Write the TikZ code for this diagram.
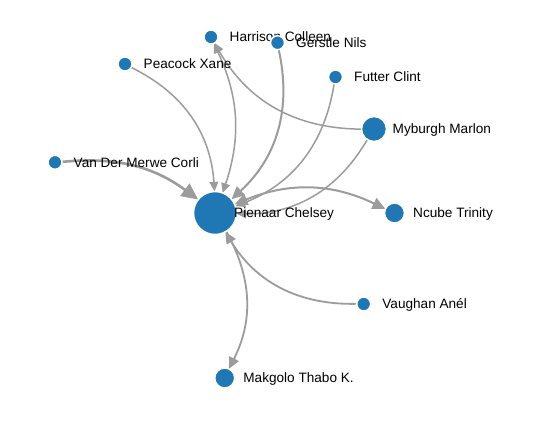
\documentclass[tikz,border=0pt]{standalone}
\usepackage{fontspec}
\setmainfont{Liberation Sans}
\usetikzlibrary{arrows.meta}
\pgfdeclarelayer{background}
\pgfsetlayers{background,main}
\definecolor{nodeblue}{HTML}{1F77B4}
\definecolor{edgegray}{HTML}{9C9C9C}
\begin{document}
\begin{tikzpicture}[x=1pt,y=-1pt,
  pnode/.style={circle,fill=nodeblue,draw=white,line width=1.5pt,inner sep=0pt,outer sep=0pt,minimum size=#1},
  lbl/.style={anchor=base west,inner sep=0pt,font=\fontsize{13.6}{16}\selectfont},
  tip/.style={-{Triangle[length=0pt 6.4,width=0pt 5.8]}},
  bothtip/.style={{Triangle[length=0pt 6.4,width=0pt 5.8]}-{Triangle[length=0pt 6.4,width=0pt 5.8]}},
  link/.style={draw=edgegray,line width=#1},
  link/.default=1.5pt]
\useasboundingbox (0,0) rectangle (556,429);
% nodes with labels
\node[pnode=43pt] (pie) at (215,213) {};
\node[lbl] (piel) at (234,217.8) {Pienaar Chelsey};
\node[pnode=14pt] (har) at (211,37) {};
\node[lbl] (harl) at (229.5,41.8) {Harrison Colleen};
\node[pnode=14pt] (ger) at (277.5,42.7) {};
\node[lbl] (gerl) at (296,47.4) {Gerstle Nils};
\node[pnode=14pt] (pea) at (125,64) {};
\node[lbl] (peal) at (143.5,68.8) {Peacock Xane};
\node[pnode=14pt] (fut) at (335.5,77) {};
\node[lbl] (futl) at (354,81.8) {Futter Clint};
\node[pnode=25pt] (myb) at (374,129) {};
\node[lbl] (mybl) at (392.5,133.8) {Myburgh Marlon};
\node[pnode=14pt] (vdm) at (55,162.3) {};
\node[lbl] (vdml) at (73.5,167.1) {Van Der Merwe Corli};
\node[pnode=20pt] (ncu) at (394.5,213) {};
\node[lbl] (ncul) at (413,217.8) {Ncube Trinity};
\node[pnode=14pt] (vau) at (363.7,304) {};
\node[lbl] (vaul) at (382.2,308.8) {Vaughan Anél};
\node[pnode=20pt] (mak) at (224.7,378) {};
\node[lbl] (makl) at (243.2,382.8) {Makgolo Thabo K.};
% edges
\begin{pgfonlayer}{background}
\fill[white] (0,0) rectangle (556,429);
\draw[link=2.6pt,tip] (vdm) to[bend left=21] (pie);
\draw[link,tip] (pea) to[bend left=30] (pie);
\draw[link,bothtip] (har) to[bend left=22] (pie);
\draw[link=2pt,tip] (ger) to[bend left=30] (pie);
\draw[link,tip] (fut) to[bend left=30] (pie);
\draw[link,tip] (myb) to[bend left=30] (pie);
\draw[link,tip] (myb) to[bend left=30] (har);
\draw[link=2pt,bothtip] (pie) to[bend left=24] (ncu);
\draw[link=1.8pt,tip] (vau) to[bend left=30] (pie);
\draw[link=1.8pt,tip] (pie) to[bend left=28] (mak);
\end{pgfonlayer}
\end{tikzpicture}
\end{document}
